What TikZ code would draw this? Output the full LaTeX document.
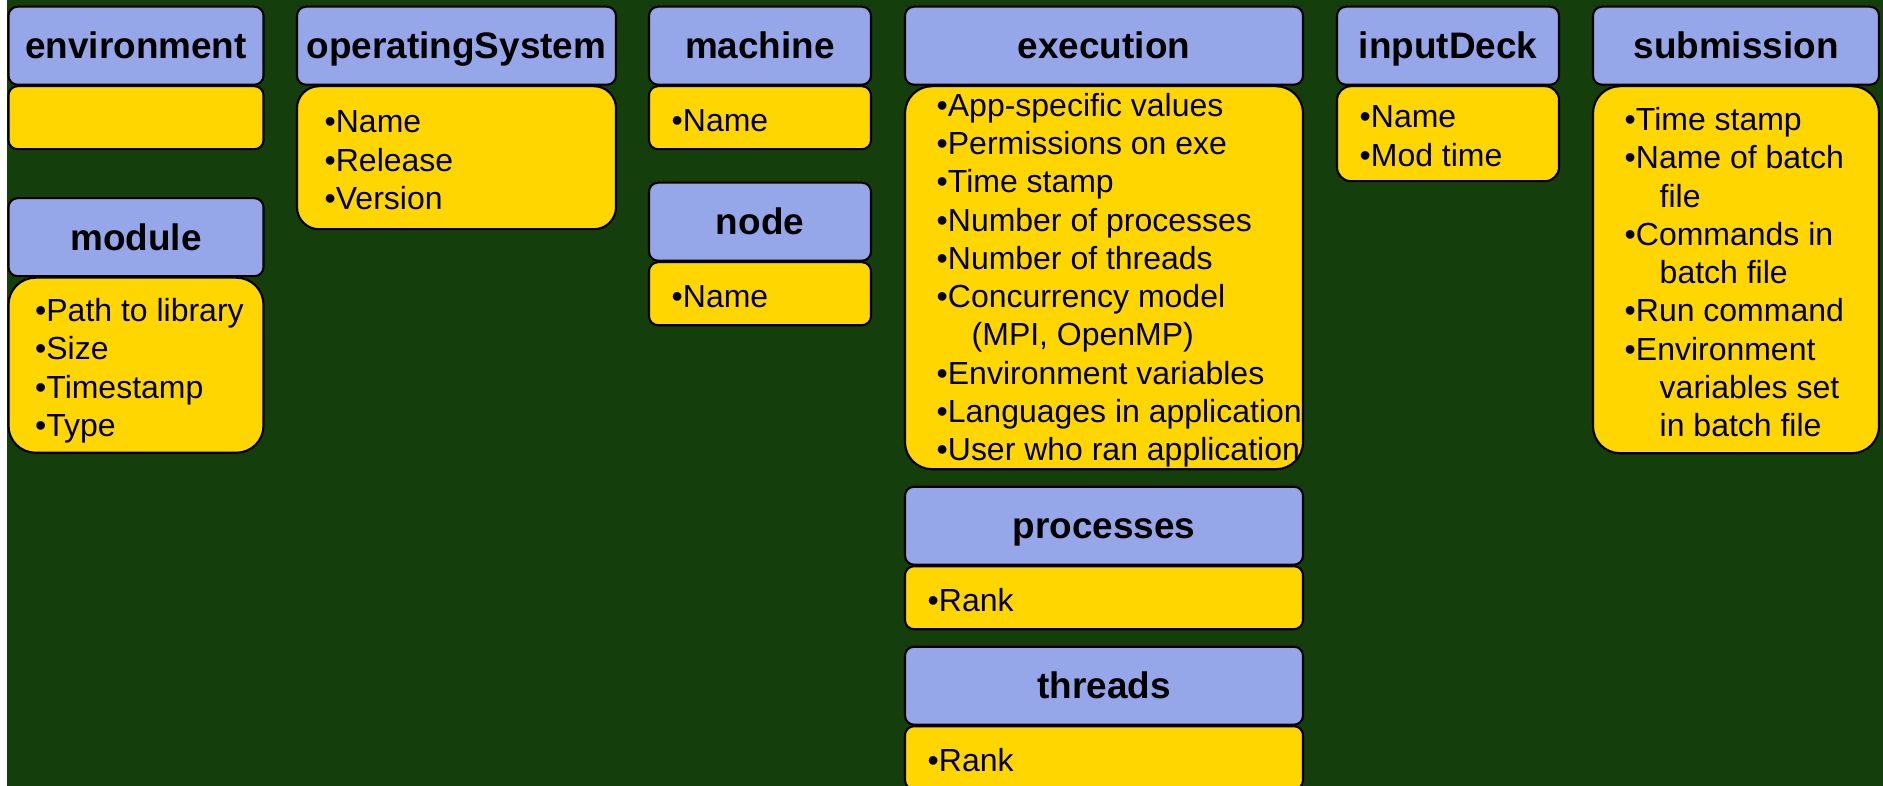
\documentclass[tikz,border=0pt]{standalone}
\usepackage{fontspec}
\setmainfont{Liberation Sans}
\usetikzlibrary{positioning}
\definecolor{bggreen}{RGB}{20,63,12}
\definecolor{hdrblue}{RGB}{150,167,233}
\definecolor{bodygold}{RGB}{255,214,0}
\begin{document}
\begin{tikzpicture}[line join=round,
    hdr/.style={draw=black, line width=0.6pt, fill=hdrblue, rounded corners=0.9mm, minimum height=0.78cm, inner sep=0pt, outer sep=0pt, font=\fontsize{10.5}{12}\selectfont\bfseries, text height=0.265cm, text depth=0pt},
    body/.style={draw=black, line width=0.6pt, fill=bodygold, rounded corners=0.9mm, inner sep=0pt, outer sep=0pt},
    txt/.style={anchor=west, align=left, inner sep=0pt, yshift=-0.25mm, font=\fontsize{9.1}{10.9}\selectfont}]
    \def\ytop{-0.067} \def\indnt{\hspace*{3.5mm}}
    \fill[white] (0,0) rectangle (18.83,-7.86);
    \fill[bggreen] (0.07,0) rectangle (18.83,-7.86);
    \useasboundingbox (0,0) rectangle (18.83,-7.86);
    \clip (0,0) rectangle (18.83,-7.86);
    % top row of tables
    \foreach \nm/\x/\w/\lbl in {envh/0.085/2.55/environment, osh/2.97/3.19/operatingSystem, mach/6.49/2.22/machine, exech/9.05/3.98/execution, inh/13.37/2.22/inputDeck, subh/15.93/2.86/submission}
        \node[hdr, minimum width=\w cm, anchor=north west] (\nm) at (\x,\ytop) {\lbl};
    % environment / module
    \node[body, minimum width=2.55cm, minimum height=0.63cm, below=0.15mm of envh] (envb) {};
    \node[hdr, minimum width=2.55cm, below=4.9mm of envb] (modh) {module};
    \node[body, minimum width=2.55cm, minimum height=1.75cm, rounded corners=2.7mm, below=0.15mm of modh] (modb) {};
    \node[txt, yshift=-0.3mm] (modt) at ([xshift=2.6mm]modb.west) {•Path to library\\•Size\\•Timestamp\\•Type};
    % operatingSystem
    \node[body, minimum width=3.19cm, minimum height=1.43cm, rounded corners=2.2mm, below=0.15mm of osh] (osb) {};
    \node[txt] (ost) at ([xshift=2.7mm]osb.west) {•Name\\•Release\\•Version};
    % machine / node
    \node[body, minimum width=2.22cm, minimum height=0.63cm, below=0.15mm of mach] (macb) {};
    \node[txt] (mact) at ([xshift=2.2mm]macb.west) {•Name};
    \node[hdr, minimum width=2.22cm, below=3.35mm of macb] (nodh) {node};
    \node[body, minimum width=2.22cm, minimum height=0.63cm, below=0.15mm of nodh] (nodb) {};
    \node[txt] (nodt) at ([xshift=2.2mm]nodb.west) {•Name};
    % execution / processes / threads
    \node[body, minimum width=3.98cm, minimum height=3.83cm, rounded corners=2.7mm, below=0.15mm of exech] (execb) {};
    \node[txt] (exect) at ([xshift=3.1mm]execb.west) {•App-specific values\\•Permissions on exe\\•Time stamp\\•Number of processes\\•Number of threads\\•Concurrency model\\\indnt(MPI, OpenMP)\\•Environment variables\\•Languages in application\\•User who ran application};
    \node[hdr, minimum width=3.98cm, below=1.75mm of execb] (proch) {processes};
    \node[body, minimum width=3.98cm, minimum height=0.63cm, below=0.15mm of proch] (procb) {};
    \node[txt] (proct) at ([xshift=2.2mm]procb.west) {•Rank};
    \node[hdr, minimum width=3.98cm, below=1.75mm of procb] (thrh) {threads};
    \node[body, minimum width=3.98cm, minimum height=0.63cm, below=0.15mm of thrh] (thrb) {};
    \node[txt] (thrt) at ([xshift=2.2mm]thrb.west) {•Rank};
    % inputDeck
    \node[body, minimum width=2.22cm, minimum height=0.95cm, rounded corners=1.4mm, below=0.15mm of inh] (inb) {};
    \node[txt] (inpt) at ([xshift=2.2mm]inb.west) {•Name\\•Mod time};
    % submission
    \node[body, minimum width=2.86cm, minimum height=3.67cm, rounded corners=2.7mm, below=0.15mm of subh] (subb) {};
    \node[txt] (subt) at ([xshift=3.1mm]subb.west) {•Time stamp\\•Name of batch\\\indnt file\\•Commands in\\\indnt batch file\\•Run command\\•Environment\\\indnt variables set\\\indnt in batch file};
\end{tikzpicture}
\end{document}
